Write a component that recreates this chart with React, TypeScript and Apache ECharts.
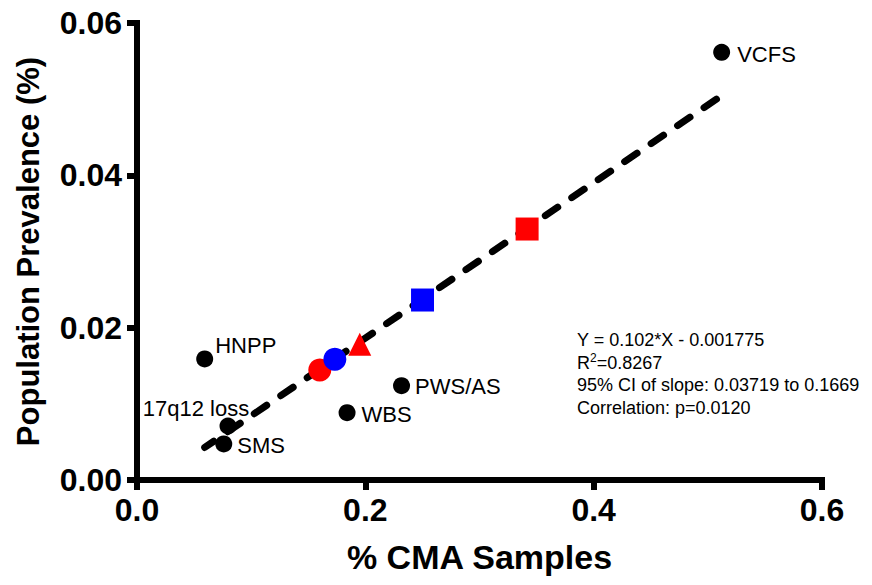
import React, { useEffect, useRef } from "react";
import * as echarts from "echarts";

// ---- data ----
const syndromeNames = ["VCFS", "HNPP", "17q12 loss", "SMS", "WBS", "PWS/AS"];
const syndromeX = [0.5121, 0.0593, 0.0797, 0.076, 0.184, 0.2317];
const syndromeY = [0.05615, 0.01589, 0.00709, 0.00473, 0.00884, 0.01238];

// coloured study markers: red circle, blue circle, red triangle, blue square, red square
const studyX = [0.1601, 0.1733, 0.1951, 0.2501, 0.3417];
const studyY = [0.01444, 0.01585, 0.01783, 0.02363, 0.03295];

const slope = 0.102;
const intercept = -0.001775;

const xTicks = [0, 0.2, 0.4, 0.6];
const yTicks = [0, 0.02, 0.04, 0.06];

const statLines = [
  "Y = 0.102*X - 0.001775",
  "R{sup|2}=0.8267",
  "95% CI of slope: 0.03719 to 0.1669",
  "Correlation: p=0.0120",
];

const FONT = "'Liberation Sans', Arial, Helvetica, sans-serif";

export default function App() {
  const ref = useRef<HTMLDivElement>(null);

  useEffect(() => {
    if (!ref.current) return;
    const chart = echarts.init(ref.current, null, { renderer: "svg" });

    const xMin = Math.min(...syndromeX);
    const xMax = Math.max(...syndromeX);
    const regLine = [
      [xMin, slope * xMin + intercept],
      [xMax, slope * xMax + intercept],
    ];

    const labelLayout: Record<string, any> = {
      VCFS: { position: "right", distance: 7, offset: [0, 2] },
      HNPP: { position: "right", distance: 2, offset: [0, -13] },
      "17q12 loss": { position: "top", distance: 0, offset: [-32, 2] },
      SMS: { position: "right", distance: 5, offset: [0, 2] },
      WBS: { position: "right", distance: 6, offset: [0, 2] },
      "PWS/AS": { position: "right", distance: 5, offset: [0, 1] },
    };

    const studyStyle = [
      { symbol: "circle", color: "#ff0000", size: 23 },
      { symbol: "circle", color: "#0000ff", size: 23 },
      { symbol: "triangle", color: "#ff0000", size: 23 },
      { symbol: "rect", color: "#0000ff", size: 23 },
      { symbol: "rect", color: "#ff0000", size: 23 },
    ];

    const axisCommon = {
      axisLine: { show: true, lineStyle: { color: "#000", width: 6, cap: "square" } },
      axisTick: { show: true, length: 10, lineStyle: { color: "#000", width: 6 } },
      splitLine: { show: false },
    };

    chart.setOption({
      animation: false,
      backgroundColor: "#fff",
      grid: { left: 137, right: 50, top: 23, bottom: 105, containLabel: false },
      xAxis: {
        type: "value",
        min: xTicks[0],
        max: xTicks[xTicks.length - 1],
        interval: xTicks[1] - xTicks[0],
        ...axisCommon,
        axisLabel: {
          margin: 14,
          color: "#000",
          fontSize: 32,
          fontWeight: "bold",
          fontFamily: FONT,
          formatter: (v: number) => v.toFixed(1),
        },
        name: "% CMA Samples",
        nameLocation: "middle",
        nameGap: 60,
        nameTextStyle: { color: "#000", fontSize: 34, fontWeight: "bold", fontFamily: FONT },
      },
      yAxis: {
        type: "value",
        min: yTicks[0],
        max: yTicks[yTicks.length - 1],
        interval: yTicks[1] - yTicks[0],
        ...axisCommon,
        axisLabel: {
          margin: 15,
          color: "#000",
          fontSize: 32,
          fontWeight: "bold",
          fontFamily: FONT,
          formatter: (v: number) => v.toFixed(2),
        },
        name: "Population Prevalence (%)",
        nameLocation: "middle",
        nameRotate: 90,
        nameGap: 93,
        nameTextStyle: { color: "#000", fontSize: 31, fontWeight: "bold", fontFamily: FONT },
      },
      series: [
        {
          type: "line",
          data: regLine,
          symbol: "none",
          silent: true,
          z: 1,
          lineStyle: { color: "#000", width: 7, type: [15, 17], dashOffset: 4, cap: "round", opacity: 1 },
        },
        {
          type: "scatter",
          z: 2,
          symbol: "circle",
          symbolSize: 17,
          itemStyle: { color: "#000", opacity: 1 },
          data: syndromeNames.map((n, i) => ({
            name: n,
            value: [syndromeX[i], syndromeY[i]],
            label: {
              show: true,
              formatter: n,
              color: "#000",
              fontSize: 22,
              fontFamily: FONT,
              ...labelLayout[n],
            },
          })),
        },
        ...studyX.map((x, i) => ({
          type: "scatter",
          z: 3 + i,
          symbol: studyStyle[i].symbol,
          symbolSize: studyStyle[i].size,
          itemStyle: { color: studyStyle[i].color, opacity: 1 },
          data: [[x, studyY[i]]],
        })),
      ],
      graphic: statLines.map((t, i) => ({
        type: "text",
        x: 577,
        y: 340 + i * 22.7,
        style: {
          text: t,
          fill: "#000",
          fontSize: 18,
          fontFamily: FONT,
          verticalAlign: "middle",
          align: "left",
          rich: {
            sup: { fontSize: 12, fontFamily: FONT, fill: "#000", padding: [0, 0, 9, 0] },
          },
        },
      })),
    });

    return () => chart.dispose();
  }, []);

  return (
    <div
      ref={ref}
      style={{ position: "fixed", left: 0, top: 0, width: 872, height: 585, background: "#fff" }}
    />
  );
}
